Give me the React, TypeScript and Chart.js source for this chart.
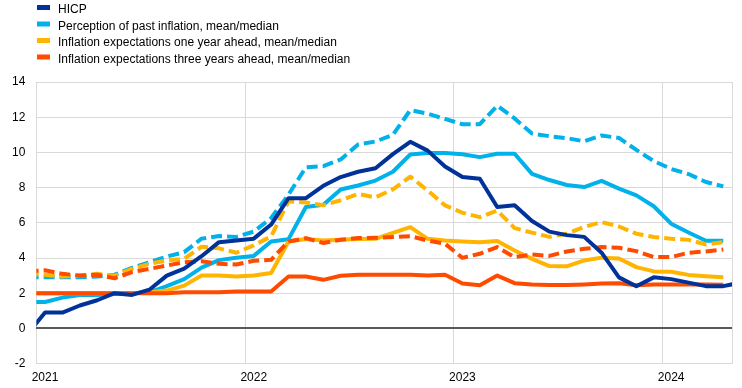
import React, { useEffect, useRef } from 'react';
import { Chart, registerables } from 'chart.js';

Chart.register(...registerables);

const FONT = "'Liberation Sans', Arial, sans-serif";

// Months from Dec 2020 to May 2024 (first and last are partly clipped by the plot area)
const months = [
  '2020-12',
  '2021-01', '2021-02', '2021-03', '2021-04', '2021-05', '2021-06', '2021-07', '2021-08', '2021-09', '2021-10', '2021-11', '2021-12',
  '2022-01', '2022-02', '2022-03', '2022-04', '2022-05', '2022-06', '2022-07', '2022-08', '2022-09', '2022-10', '2022-11', '2022-12',
  '2023-01', '2023-02', '2023-03', '2023-04', '2023-05', '2023-06', '2023-07', '2023-08', '2023-09', '2023-10', '2023-11', '2023-12',
  '2024-01', '2024-02', '2024-03', '2024-04', '2024-05',
];

const firstShownMonth = '2021-01';
const lastShownMonth = '2024-04';

const yearTickLabels = ['2021', '2022', '2023', '2024'];

const hicp = [
  -0.3,
  0.9, 0.9, 1.3, 1.6, 2.0, 1.9, 2.2, 3.0, 3.4, 4.1, 4.9, 5.0,
  5.1, 5.9, 7.4, 7.4, 8.1, 8.6, 8.9, 9.1, 9.9, 10.6, 10.1, 9.2,
  8.6, 8.5, 6.9, 7.0, 6.1, 5.5, 5.3, 5.2, 4.3, 2.9, 2.4, 2.9,
  2.8, 2.6, 2.4, 2.4, 2.6,
];

const perceptionMean = [
  2.9,
  2.9, 2.9, 2.9, 2.95, 3.05, 3.44, 3.76, 4.08, 4.33, 5.1, 5.25, 5.2,
  5.5, 6.27, 7.6, 9.16, 9.22, 9.6, 10.45, 10.62, 11.0, 12.4, 12.2, 11.9,
  11.6, 11.6, 12.65, 11.93, 11.07, 10.92, 10.81, 10.63, 10.96, 10.82, 10.14, 9.51,
  9.06, 8.77, 8.32, 8.07, null,
];

const perceptionMedian = [
  1.5,
  1.5, 1.75, 1.9, 1.9, 1.95, 2.0, 2.05, 2.4, 2.8, 3.45, 3.88, 4.02,
  4.12, 4.94, 5.07, 6.9, 7.02, 7.89, 8.12, 8.4, 8.9, 9.88, 9.97, 9.97,
  9.9, 9.73, 9.92, 9.92, 8.78, 8.43, 8.15, 8.03, 8.38, 7.94, 7.56, 6.94,
  5.95, 5.45, 4.98, 4.98, null,
];

const oneYearMean = [
  3.1,
  3.05, 2.95, 3.0, 3.1, 3.0, 3.38, 3.67, 3.86, 3.95, 4.64, 4.55, 4.3,
  4.72, 5.23, 7.22, 7.15, 7.0, 7.28, 7.64, 7.44, 7.9, 8.62, 7.84, 6.99,
  6.57, 6.32, 6.7, 5.7, 5.44, 5.2, 5.38, 5.76, 6.04, 5.79, 5.38, 5.19,
  5.09, 5.03, 4.77, 4.9, null,
];

const oneYearMedian = [
  2.0,
  2.0, 2.0, 2.0, 2.0, 2.0, 2.0, 2.05, 2.15, 2.43, 3.0, 3.0, 2.95,
  3.0, 3.15, 4.94, 5.08, 5.0, 5.04, 5.08, 5.09, 5.43, 5.75, 5.09, 4.99,
  4.94, 4.9, 4.96, 4.43, 3.95, 3.54, 3.53, 3.86, 4.02, 3.97, 3.48, 3.24,
  3.22, 3.04, 2.96, 2.9, null,
];

const threeYearMean = [
  3.25,
  3.3, 3.1, 3.0, 3.05, 2.85, 3.2, 3.38, 3.57, 3.76, 3.82, 3.67, 3.63,
  3.84, 3.9, 4.94, 5.13, 4.85, 5.04, 5.13, 5.15, 5.19, 5.24, 4.99, 4.81,
  4.01, 4.24, 4.62, 4.05, 4.2, 4.12, 4.37, 4.52, 4.62, 4.58, 4.39, 4.05,
  4.05, 4.3, 4.37, 4.48, null,
];

const threeYearMedian = [
  2.0,
  2.0, 2.0, 2.0, 2.0, 2.0, 2.0, 2.0, 2.0, 2.05, 2.05, 2.05, 2.1,
  2.1, 2.1, 2.95, 2.95, 2.76, 2.99, 3.05, 3.05, 3.05, 3.05, 3.0, 3.05,
  2.55, 2.45, 3.0, 2.57, 2.5, 2.47, 2.47, 2.5, 2.55, 2.56, 2.45, 2.5,
  2.5, 2.5, 2.5, 2.48, null,
];

const legendLabels = [
  'HICP',
  'Perception of past inflation, mean/median',
  'Inflation expectations one year ahead, mean/median',
  'Inflation expectations three years ahead, mean/median',
];

const DARK_BLUE = '#003299';
const LIGHT_BLUE = '#00B1EA';
const YELLOW = '#FFB400';
const ORANGE = '#FF4B00';
const legendColors = [DARK_BLUE, LIGHT_BLUE, YELLOW, ORANGE];

const rowLegend = {
  id: 'rowLegend',
  afterDraw(chart: any) {
    const ctx = chart.ctx;
    ctx.save();
    ctx.font = `12px ${FONT}`;
    ctx.textBaseline = 'middle';
    ctx.textAlign = 'left';
    legendLabels.forEach((label, k) => {
      const cy = 10 + k * 16.5;
      ctx.fillStyle = legendColors[k];
      ctx.fillRect(37, cy - 5, 13, 5);
      ctx.fillStyle = '#000000';
      ctx.fillText(label, 58, cy);
    });
    ctx.restore();
  },
};

function yearOf(label: string): string {
  const [y, m] = label.split('-');
  if (m === '01' && yearTickLabels.includes(y)) return y;
  return '';
}

export default function App() {
  const canvasRef = useRef<HTMLCanvasElement | null>(null);

  useEffect(() => {
    document.body.style.margin = '0';
    const canvas = canvasRef.current;
    if (!canvas) return;

    const line = (data: (number | null)[], color: string, dashed: boolean, order: number) => ({
      data,
      borderColor: color,
      backgroundColor: color,
      borderWidth: 4,
      borderDash: dashed ? [11, 5] : [],
      borderCapStyle: 'butt' as const,
      borderJoinStyle: 'round' as const,
      pointRadius: 0,
      pointHoverRadius: 0,
      tension: 0,
      fill: false,
      order,
      clip: { left: 0, right: 0, top: 6, bottom: 6 },
    });

    const chart = new Chart(canvas, {
      type: 'line',
      data: {
        labels: months,
        datasets: [
          { label: 'HICP', ...line(hicp, DARK_BLUE, false, 0) },
          { label: 'Inflation expectations three years ahead, mean', ...line(threeYearMean, ORANGE, true, 1) },
          { label: 'Inflation expectations three years ahead, median', ...line(threeYearMedian, ORANGE, false, 2) },
          { label: 'Inflation expectations one year ahead, mean', ...line(oneYearMean, YELLOW, true, 3) },
          { label: 'Inflation expectations one year ahead, median', ...line(oneYearMedian, YELLOW, false, 4) },
          { label: 'Perception of past inflation, mean', ...line(perceptionMean, LIGHT_BLUE, true, 5) },
          { label: 'Perception of past inflation, median', ...line(perceptionMedian, LIGHT_BLUE, false, 6) },
        ],
      },
      options: {
        responsive: false,
        animation: false,
        devicePixelRatio: 1,
        layout: { padding: { top: 82, left: 1, right: 10, bottom: -4 } },
        plugins: {
          legend: { display: false },
          tooltip: { enabled: false },
        },
        scales: {
          x: {
            type: 'category',
            offset: true,
            // show Jan 2021 .. Apr 2024; neighbouring months are drawn and clipped at the plot edge
            afterDataLimits: (scale: any) => {
              scale.min = months.indexOf(firstShownMonth);
              scale.max = months.indexOf(lastShownMonth);
            },
            border: { display: false },
            grid: {
              offset: true,
              drawTicks: false,
              lineWidth: 1,
              color: (ctx: any) => {
                if (ctx.type !== 'tick' || !ctx.tick) return '#D9D9D9';
                const lab = months[ctx.tick.value];
                return lab && lab.endsWith('-01') ? '#D9D9D9' : 'rgba(0,0,0,0)';
              },
            },
            ticks: {
              autoSkip: false,
              maxRotation: 0,
              minRotation: 0,
              padding: 7,
              color: '#000000',
              font: { family: FONT, size: 12 },
              callback: (value: any) => yearOf(months[value as number] || ''),
            },
          },
          y: {
            min: -2,
            max: 14,
            border: { display: false },
            grid: {
              drawTicks: false,
              color: (ctx: any) => (ctx.tick && ctx.tick.value === 0 ? '#595959' : '#D9D9D9'),
              lineWidth: (ctx: any) => (ctx.tick && ctx.tick.value === 0 ? 2 : 1),
            },
            ticks: {
              stepSize: 2,
              padding: 11,
              color: '#000000',
              font: { family: FONT, size: 12 },
            },
          },
        },
      },
      plugins: [rowLegend],
    });

    return () => chart.destroy();
  }, []);

  return (
    <div style={{ width: 742, height: 388, position: 'relative', background: '#ffffff' }}>
      <canvas ref={canvasRef} width={742} height={388} />
    </div>
  );
}
